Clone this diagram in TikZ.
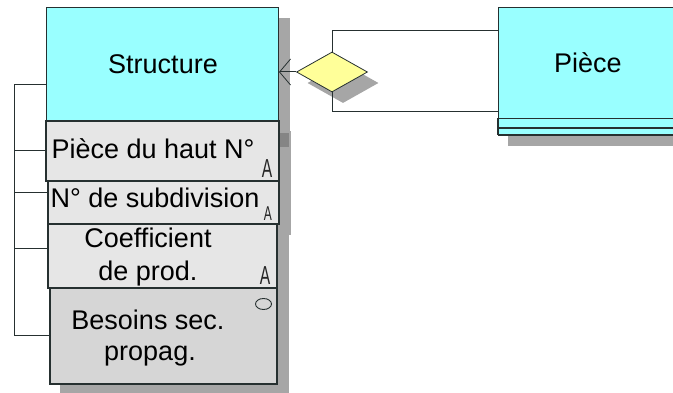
\documentclass[tikz,border=0pt]{standalone}
\usepackage{fontspec}
\setmainfont{Liberation Sans}
\usetikzlibrary{shapes.geometric,arrows.meta,backgrounds}
\definecolor{cyanfill}{HTML}{99FFFF}
\definecolor{attrfill}{HTML}{E6E6E6}
\definecolor{attrdark}{HTML}{D6D6D6}
\definecolor{shadowc}{HTML}{A6A6A6}
\definecolor{yellowfill}{HTML}{FFFF99}
\definecolor{edge}{HTML}{263030}
\begin{document}
\begin{tikzpicture}[x=1pt,y=-1pt,
  entbox/.style={draw=edge, fill=cyanfill, line width=1pt, inner sep=0pt, anchor=north west},
  attrbox/.style={draw=edge, fill=attrfill, line width=1.6pt, inner sep=0pt, anchor=north west},
  label/.style={font=\fontsize{27}{31}\selectfont, inner sep=0pt, anchor=base, text=black},
  marker/.style={font=\fontsize{26}{27}\selectfont, inner sep=0pt, anchor=base, text=black!85, xscale=0.6, transform shape},
  wire/.style={draw=edge, line width=1pt}]
\useasboundingbox (0,0) rectangle (673,393);

% Structure entity and its attributes
\node[entbox, minimum width=232pt, minimum height=113pt] (struct) at (46,7) {};
\node[attrbox, minimum width=233pt, minimum height=60pt] (a1) at (45,120) {};
\node[attrbox, minimum width=231pt, minimum height=43pt] (a2) at (47,180) {};
\node[attrbox, minimum width=229pt, minimum height=64pt] (a3) at (47,223) {};
\node[attrbox, fill=attrdark, minimum width=227pt, minimum height=96pt] (a4) at (49,287) {};

\node[label] (tstruct) at (163,74) {Structure};
\node[label] (t1) at (153,159) {Pièce du haut N°};
\node[label] (t2) at (155,208) {N° de subdivision};
\node[label] (t3a) at (148,248) {Coefficient};
\node[label] (t3b) at (148,280) {de prod.};
\node[label] (t4a) at (148,329) {Besoins sec.};
\node[label] (t4b) at (150,360) {propag.};

\node[marker] (m1) at (267,178) {A};
\node[marker, font=\fontsize{20}{21}\selectfont] (m2) at (268,221) {A};
\node[marker] (m3) at (265,284) {A};
\draw[edge, line width=0.9pt] (263.5,304) ellipse [x radius=8pt, y radius=5.5pt];

% Pièce entity (stacked)
\fill[cyanfill] (498,118) rectangle (678,135);
\draw[edge, line width=1.2pt] (498,118) -- (678,118) (498,128) -- (678,128) (498,135) -- (678,135)
  (498,118) -- (498,135);
\node[entbox, minimum width=180pt, minimum height=111pt] (piece) at (498,7) {};
\node[label] (tpiece) at (588,73) {Pièce};

% Relationship diamond
\node[diamond, draw=edge, fill=yellowfill, line width=0.8pt, inner sep=0pt,
      minimum width=71pt, minimum height=40pt] (dia) at (332,72) {};

% Connectors
\draw[wire, -{Straight Barb[length=11pt, width=26pt, line width=0.8pt]}] (dia.west) -- (dia.west -| struct.east);
\draw[wire] (dia.north) |- ([yshift=-24pt]piece.north west);
\draw[wire] (dia.south) |- ([yshift=7pt]piece.south west);

\coordinate (b0) at (14,85);
\coordinate (b1) at (14,151);
\coordinate (b2) at (14,193);
\coordinate (b3) at (14,249);
\coordinate (b4) at (14,335);
\draw[wire] (b0) -- (b4);
\draw[wire] (b0) -- (b0 -| struct.west);
\draw[wire] (b1) -- (b1 -| a1.west);
\draw[wire] (b2) -- (b2 -| a2.west);
\draw[wire] (b3) -- (b3 -| a3.west);
\draw[wire] (b4) -- (b4 -| a4.west);

% Shadows
\begin{scope}[on background layer]
  \foreach \n in {struct,a1,a2,a3,a4}
    \fill[shadowc] ([shift={(11pt,-11pt)}]\n.north west) rectangle ([shift={(11pt,-10pt)}]\n.south east);
  \fill[shadowc!80!black] (278,133) rectangle (289,147);
  \fill[shadowc] (508,135) rectangle (690,146);
  \node[diamond, fill=shadowc, inner sep=0pt, minimum width=71pt, minimum height=40pt]
    at ([shift={(11pt,-11pt)}]dia.center) {};
\end{scope}
\end{tikzpicture}
\end{document}
